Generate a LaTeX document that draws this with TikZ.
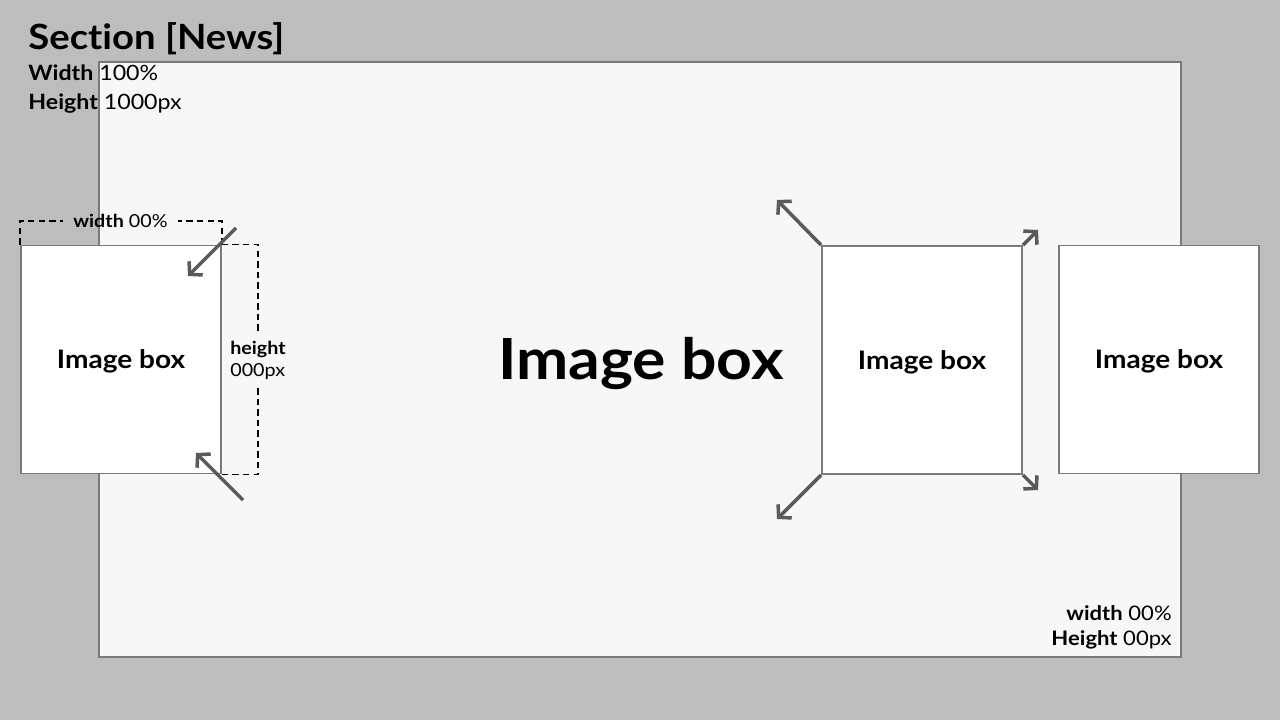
\documentclass[tikz,border=0pt]{standalone}
\usepackage{fontspec}
\setmainfont{Lato}[FakeStretch=1.1, Ligatures=NoCommon]
\usetikzlibrary{arrows.meta}
\definecolor{bggray}{HTML}{BDBDBD}
\definecolor{panelfill}{HTML}{F7F7F7}
\definecolor{edgegray}{HTML}{7A7A7A}
\definecolor{arrowgray}{HTML}{5A5A5A}
\tikzset{
  imgbox/.style={draw=edgegray, line width=1.1pt, fill=white, minimum width=4cm, minimum height=4.56cm, inner sep=0pt, text height=10.4pt, text depth=0pt, font=\fontsize{14.5}{17}\selectfont\bfseries},
  panelbox/.style={draw=edgegray, line width=1.1pt, fill=panelfill, minimum width=21.64cm, minimum height=11.9cm, inner sep=0pt},
  dimline/.style={draw=black, line width=0.85pt, dash pattern=on 3.6pt off 2.4pt},
  dimlabel/.style={font=\fontsize{10.2}{12.4}\selectfont, inner sep=0pt},
  bigarrow/.style={draw=arrowgray, line width=2pt, -{Straight Barb[length=5pt,width=11pt]}},
  txt/.style={inner sep=0pt}
}
\begin{document}
\begin{tikzpicture}[x=0.02cm,y=-0.02cm]
\fill[bggray] (0,0) rectangle (1280,720);
\useasboundingbox (0,0) rectangle (1280,720);
% main panel
\node[panelbox] (panel) at (640,359.5) {};
% title and sizes
\node[txt, anchor=base west, font=\fontsize{19.8}{23}\selectfont\bfseries] (title) at (28,49) {Section [News]};
\node[txt, anchor=base west, font=\fontsize{12}{14}\selectfont] (pw) at (28,80) {\textbf{Width} 100\%};
\node[txt, anchor=base west, font=\fontsize{12}{14}\selectfont] (ph) at (28,109) {\textbf{Height} 1000px};
% big label
\node[txt, text height=23.2pt, text depth=0pt, font=\fontsize{32.3}{38}\selectfont\bfseries] (big) at (641,359) {Image box};
% image boxes
\node[imgbox] (lbox) at (121,359.5) {Image box};
\node[imgbox] (mbox) at (922,360) {Image box};
\node[imgbox] (rbox) at (1159,359.5) {Image box};
% dimension labels
\node[dimlabel, minimum width=2.3cm] (wlab) at (120.5,221) {\textbf{width} 00\%};
\node[dimlabel, align=left, minimum height=1.1cm] (hlab) at (258,360) {\textbf{height}\\000px};
\draw[dimline] (lbox.north west) |- (wlab.west);
\draw[dimline] (lbox.north east) |- (wlab.east);
\draw[dimline] (lbox.north east) -| (hlab.north);
\draw[dimline] (lbox.south east) -| (hlab.south);
% bottom-right sizes
\node[txt, anchor=base east, font=\fontsize{11.4}{13}\selectfont] (bw) at (1172,620) {\textbf{width} 00\%};
\node[txt, anchor=base east, font=\fontsize{11.4}{13}\selectfont] (bh) at (1172,645) {\textbf{Height} 00px};
% arrows
\coordinate (a1s) at (236,228);
\coordinate (a1e) at (188,276);
\coordinate (a2s) at (243,500);
\coordinate (a2e) at (196,453);
\coordinate (a3e) at (777,200);
\coordinate (a4e) at (777,519);
\coordinate (a5e) at (1038,230);
\coordinate (a6e) at (1038,490);
\draw[bigarrow] (a1s) -- (a1e);
\draw[bigarrow] (a2s) -- (a2e);
\draw[bigarrow] (mbox.north west) -- (a3e);
\draw[bigarrow] (mbox.south west) -- (a4e);
\draw[bigarrow] (mbox.north east) -- (a5e);
\draw[bigarrow] (mbox.south east) -- (a6e);
\end{tikzpicture}
\end{document}
